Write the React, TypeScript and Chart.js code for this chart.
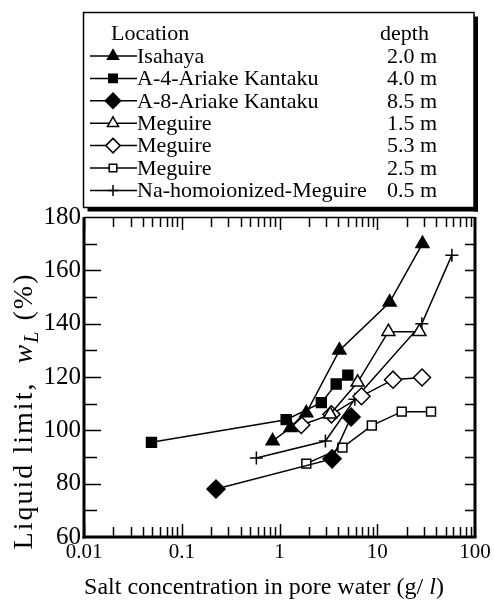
import React, { useEffect, useRef } from 'react';
import { Chart, registerables } from 'chart.js';
Chart.register(...registerables);

// ---------- data ----------
const seriesNames = ['Isahaya', 'A-4-Ariake Kantaku', 'A-8-Ariake Kantaku', 'Meguire', 'Meguire', 'Meguire', 'Na-homoionized-Meguire'];
const seriesDepths = ['2.0 m', '4.0 m', '8.5 m', '1.5 m', '5.3 m', '2.5 m', '0.5 m'];
const legendHeader = ['Location', 'depth'];

const isahayaX = [0.85, 1.3, 1.88, 4.1, 13.4, 29];
const isahayaY = [96, 101, 106.5, 130, 148, 170];
const a4X = [0.049, 1.17, 2.68, 3.8, 5.0];
const a4Y = [95.5, 104, 110.4, 117.4, 120.7];
const a8X = [0.224, 3.45, 5.4];
const a8Y = [78, 89.3, 105];
const meg15X = [3.3, 6.3, 13, 27];
const meg15Y = [106, 118, 137, 137];
const meg53X = [1.67, 3.4, 6.9, 14.5, 28.7];
const meg53Y = [102, 106, 112.8, 119, 119.8];
const meg25X = [1.88, 4.4, 8.8, 17.8, 35.5];
const meg25Y = [87.5, 93.5, 101.8, 107, 107];
const naX = [0.58, 2.95, 5.9, 28.6, 58];
const naY = [89.6, 96, 111.7, 140, 165.7];

const xTickValues = [0.01, 0.1, 1, 10, 100];
const xTickLabels = ['0.01', '0.1', '1', '10', '100'];
const yTickValues = [60, 80, 100, 120, 140, 160, 180];

const xTitleRuns = [{ t: 'Salt concentration in pore water (g/ ' }, { t: 'l', it: true }, { t: ')' }];
const yTitleRuns = [{ t: 'Liquid limit,  ' }, { t: 'w', it: true }, { t: 'L', it: true, sub: true }, { t: ' (%)' }];

// ---------- styles ----------
const FONT = '"Liberation Serif", "Times New Roman", serif';
const markerStyles = [
  { shape: 'triangle', r: 7.5, filled: true },
  { shape: 'rect', r: 7, filled: true },
  { shape: 'rectRot', r: 9, filled: true },
  { shape: 'triangle', r: 7.5, filled: false },
  { shape: 'rectRot', r: 8.5, filled: false },
  { shape: 'rect', r: 6.3, filled: false },
  { shape: 'cross', r: 6.5, filled: false },
];
const seriesX = [isahayaX, a4X, a8X, meg15X, meg53X, meg25X, naX];
const seriesY = [isahayaY, a4Y, a8Y, meg15Y, meg53Y, meg25Y, naY];

function drawMarker(ctx: CanvasRenderingContext2D, shape: string, x: number, y: number, r: number, filled: boolean) {
  ctx.save();
  ctx.beginPath();
  if (shape === 'triangle') {
    for (let k = 0; k < 3; k++) {
      const a = (k * 2 * Math.PI) / 3;
      const px = x + Math.sin(a) * r, py = y - Math.cos(a) * r;
      if (k === 0) ctx.moveTo(px, py); else ctx.lineTo(px, py);
    }
    ctx.closePath();
  } else if (shape === 'rect') {
    const s = r * Math.SQRT1_2;
    ctx.rect(x - s, y - s, 2 * s, 2 * s);
  } else if (shape === 'rectRot') {
    ctx.moveTo(x, y - r); ctx.lineTo(x + r, y); ctx.lineTo(x, y + r); ctx.lineTo(x - r, y); ctx.closePath();
  } else {
    ctx.moveTo(x - r, y); ctx.lineTo(x + r, y); ctx.moveTo(x, y - r); ctx.lineTo(x, y + r);
  }
  ctx.fillStyle = filled ? '#000' : '#fff';
  ctx.strokeStyle = '#000';
  ctx.lineWidth = 1.5;
  if (shape !== 'cross') ctx.fill();
  ctx.stroke();
  ctx.restore();
}

// draws text runs centred at (cx, cy), spreading letters slightly to fill targetW
function drawRuns(ctx: CanvasRenderingContext2D, runs: any[], cx: number, cy: number, size: number, targetW: number, angle: number) {
  const fontOf = (r: any) => `${r.it ? 'italic ' : ''}${r.sub ? Math.round(size * 0.7) : size}px ${FONT}`;
  let W = 0;
  let n = 0;
  const c: any = ctx;
  c.letterSpacing = '0px';
  runs.forEach((r) => { ctx.font = fontOf(r); W += ctx.measureText(r.t).width; n += r.t.length; });
  const sp = Math.max(0, (targetW - W) / n);
  const total = W + sp * n;
  ctx.save();
  ctx.translate(cx, cy);
  ctx.rotate(angle);
  ctx.fillStyle = '#000';
  ctx.textBaseline = 'alphabetic';
  c.letterSpacing = `${sp}px`;
  let xx = -total / 2;
  const base = size * 0.33;
  runs.forEach((r) => {
    ctx.font = fontOf(r);
    ctx.fillText(r.t, xx, base + (r.sub ? size * 0.22 : 0));
    xx += ctx.measureText(r.t).width;
  });
  c.letterSpacing = '0px';
  ctx.restore();
}

const decor = {
  id: 'decor',
  afterDraw(chart: any) {
    const { ctx, chartArea } = chart;
    const { left, right, top, bottom } = chartArea;
    const xs = chart.scales.x, ys = chart.scales.y;
    ctx.save();
    ctx.strokeStyle = '#000';
    ctx.lineWidth = 1.5;
    const line = (x1: number, y1: number, x2: number, y2: number) => { ctx.beginPath(); ctx.moveTo(x1, y1); ctx.lineTo(x2, y2); ctx.stroke(); };
    // x ticks (log, top & bottom, inward)
    for (let e = -2; e <= 1; e++) {
      for (let m = 1; m <= 9; m++) {
        const v = m * Math.pow(10, e);
        const px = Math.round(xs.getPixelForValue(v)) + 0.5;
        const len = m === 1 ? 13 : 10;
        line(px, bottom, px, bottom - len);
        line(px, top, px, top + len);
      }
    }
    // y ticks every 10
    for (let v = 70; v <= 170; v += 10) {
      const py = Math.round(ys.getPixelForValue(v)) + 0.5;
      line(left, py, left + (v % 20 === 0 ? 17 : 13), py);
      line(right, py, right - 10, py);
    }
    // frame
    ctx.lineWidth = 1.5;
    line(left, top + 0.5, right, top + 0.5);
    ctx.lineWidth = 3;
    line(left, top, left, bottom + 1.5);
    line(left - 1.5, bottom, right + 1.5, bottom);
    line(right, top, right, bottom);

    // legend box
    const L = 83.5, T = 12.5, R = 474, B = 207.5;
    ctx.fillStyle = '#000';
    ctx.fillRect(R, T + 4, 4, B - T);
    ctx.fillRect(L + 4, B, R - L, 4);
    ctx.fillStyle = '#fff';
    ctx.fillRect(L, T, R - L, B - T);
    ctx.lineWidth = 1.5;
    ctx.strokeRect(L, T, R - L, B - T);

    ctx.fillStyle = '#000';
    ctx.font = `22px ${FONT}`;
    ctx.textBaseline = 'middle';
    ctx.fillText(legendHeader[0], 111, 34);
    ctx.fillText(legendHeader[1], 380, 34);
    for (let i = 0; i < seriesNames.length; i++) {
      const cy = 56 + i * 22.4;
      ctx.lineWidth = 1.5;
      line(90, cy, 137, cy);
      const ms = markerStyles[i];
      drawMarker(ctx, ms.shape, 113, cy, ms.r * 0.85, ms.filled);
      ctx.fillStyle = '#000';
      ctx.font = `22px ${FONT}`;
      ctx.textBaseline = 'middle';
      ctx.fillText(seriesNames[i], 137, cy + 1);
      const endX = 137 + ctx.measureText(seriesNames[i]).width;
      ctx.fillText(seriesDepths[i], Math.max(387, endX + 4), cy + 1);
    }

    // axis titles
    drawRuns(ctx, xTitleRuns, 264, 586, 24, 358, 0);
    drawRuns(ctx, yTitleRuns, 23, 411, 28, 277, -Math.PI / 2);
    ctx.restore();
  },
};

export default function App() {
  const ref = useRef<HTMLCanvasElement>(null);
  useEffect(() => {
    const canvas = ref.current!;
    const datasets = seriesNames.map((name, i) => {
      const ms = markerStyles[i];
      return {
        label: `${name} ${seriesDepths[i]}`,
        data: seriesX[i].map((x, k) => ({ x, y: seriesY[i][k] })),
        borderColor: '#000',
        borderWidth: 1.5,
        backgroundColor: ms.filled ? '#000' : '#fff',
        pointStyle: ms.shape,
        pointRadius: ms.r,
        pointHoverRadius: ms.r,
        pointBorderColor: '#000',
        pointBackgroundColor: ms.filled ? '#000' : '#fff',
        pointBorderWidth: 1.5,
        fill: false,
        tension: 0,
      };
    });
    const chart = new Chart(canvas, {
      type: 'line',
      data: { datasets } as any,
      options: {
        animation: false,
        responsive: false,
        events: [],
        layout: { padding: { top: 217, right: 19, left: 0, bottom: 0 } },
        plugins: { legend: { display: false }, tooltip: { enabled: false }, title: { display: false } },
        scales: {
          x: {
            type: 'logarithmic',
            min: 0.01,
            max: 100,
            position: 'bottom',
            afterBuildTicks: (s: any) => { s.ticks = xTickValues.map((v) => ({ value: v })); },
            afterFit: (s: any) => { s.height = 70; },
            grid: { display: false, drawTicks: false },
            border: { display: false },
            ticks: {
              autoSkip: false,
              maxRotation: 0,
              padding: 3,
              color: '#000',
              font: { family: FONT, size: 21 },
              callback: (_v: any, i: number) => xTickLabels[i],
            },
          },
          y: {
            type: 'linear',
            min: 60,
            max: 180,
            afterBuildTicks: (s: any) => { s.ticks = yTickValues.map((v) => ({ value: v })); },
            afterFit: (s: any) => { s.width = 84; },
            grid: { display: false, drawTicks: false },
            border: { display: false },
            ticks: { padding: 3, color: '#000', font: { family: FONT, size: 25 } },
          },
        },
      } as any,
      plugins: [decor],
    });
    return () => chart.destroy();
  }, []);
  return (
    <div style={{ position: 'absolute', left: 0, top: 0, width: 494, height: 607, background: '#fff' }}>
      <canvas ref={ref} width={494} height={607} style={{ display: 'block' }} />
    </div>
  );
}
